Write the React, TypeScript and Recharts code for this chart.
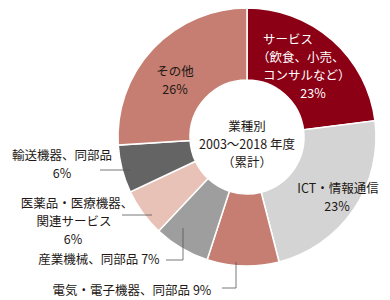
import { PieChart, Pie, Cell } from "recharts";

// 業種別シェア (%)
const categories = [
  "サービス（飲食、小売、コンサルなど）",
  "ICT・情報通信",
  "電気・電子機器、同部品",
  "産業機械、同部品",
  "医薬品・医療機器、関連サービス",
  "輸送機器、同部品",
  "その他",
];
const shares = [23, 23, 9, 7, 6, 6, 26];
const COLORS = ["#8b0015", "#d4d4d4", "#c57e71", "#9e9e9e", "#e9c2b7", "#646464", "#c57e71"];
const centerLines = ["業種別", "2003〜2018 年度", "（累計）"];

const data = categories.map((name, i) => ({ name, value: shares[i] }));

const FONT = '"Noto Sans CJK JP", "Noto Sans", sans-serif';
const TEXT = "#231815";

type Line = { t: string; dx: number; dy: number; a?: "start" | "middle" | "end" };
type Layout = { fill: string; lines: Line[]; leader?: [number, number][] };

// label text placement, offsets from the pie centre; "%" marks where the value goes
const layout: Layout[] = [
  {
    fill: "#fff",
    lines: [
      { t: "サービス", dx: 16, dy: -99, a: "start" },
      { t: "（飲食、小売、", dx: 10, dy: -81, a: "start" },
      { t: "コンサルなど）", dx: 16, dy: -63, a: "start" },
      { t: "%", dx: 66, dy: -45 },
    ],
  },
  {
    fill: TEXT,
    lines: [
      { t: "ICT・情報通信", dx: 91, dy: 50 },
      { t: "%", dx: 90, dy: 68 },
    ],
  },
  {
    fill: TEXT,
    lines: [{ t: "電気・電子機器、同部品 %", dx: -115, dy: 152 }],
    leader: [[-11, 125], [-11, 151], [-25, 151]],
  },
  {
    fill: TEXT,
    lines: [{ t: "産業機械、同部品 %", dx: -148, dy: 121 }],
    leader: [[-64, 91], [-64, 123], [-81, 123]],
  },
  {
    fill: TEXT,
    lines: [
      { t: "医薬品・医療機器、", dx: -170, dy: 65 },
      { t: "関連サービス", dx: -173, dy: 83 },
      { t: "%", dx: -174, dy: 101 },
    ],
    leader: [[-95, 78], [-125, 78]],
  },
  {
    fill: TEXT,
    lines: [
      { t: "輸送機器、同部品", dx: -185, dy: 17 },
      { t: "%", dx: -185, dy: 35 },
    ],
    leader: [[-117, 33], [-147, 33]],
  },
  {
    fill: TEXT,
    lines: [
      { t: "その他", dx: -72, dy: -67 },
      { t: "%", dx: -72, dy: -49 },
    ],
  },
];

const renderLabel = (props: any) => {
  const { cx, cy, index, value } = props;
  const cfg = layout[index];
  if (!cfg) return null;
  return (
    <g key={`lbl-${index}`}>
      {cfg.leader && (
        <polyline
          points={cfg.leader.map(([x, y]) => `${cx + x},${cy + y}`).join(" ")}
          fill="none"
          stroke="#555"
          strokeWidth={0.8}
        />
      )}
      {cfg.lines.map((ln, i) => (
        <text
          key={i}
          x={cx + ln.dx}
          y={cy + ln.dy}
          fill={cfg.fill}
          fontSize={12.5}
          fontFamily={FONT}
          textAnchor={ln.a ?? "middle"}
          dominantBaseline="central"
        >
          {ln.t.replace("%", `${value}%`)}
        </text>
      ))}
    </g>
  );
};

export default function App() {
  const cx = 247;
  const cy = 137;
  return (
    <div style={{ position: "absolute", left: 0, top: 0 }}>
      <PieChart width={390} height={300} margin={{ top: 0, right: 0, bottom: 0, left: 0 }}>
        <Pie
          data={data}
          dataKey="value"
          nameKey="name"
          cx={cx}
          cy={cy}
          innerRadius={57}
          outerRadius={129}
          startAngle={90}
          endAngle={-270}
          stroke="#fff"
          strokeWidth={1.5}
          labelLine={false}
          label={renderLabel}
          isAnimationActive={false}
        >
          {data.map((_, i) => (
            <Cell key={`cell-${i}`} fill={COLORS[i]} />
          ))}
        </Pie>
        {centerLines.map((t, i) => (
          <text
            key={t}
            x={cx}
            y={cy - 12 + i * 18}
            fill={TEXT}
            fontSize={12.5}
            fontFamily={FONT}
            textAnchor="middle"
            dominantBaseline="central"
          >
            {t}
          </text>
        ))}
      </PieChart>
    </div>
  );
}
